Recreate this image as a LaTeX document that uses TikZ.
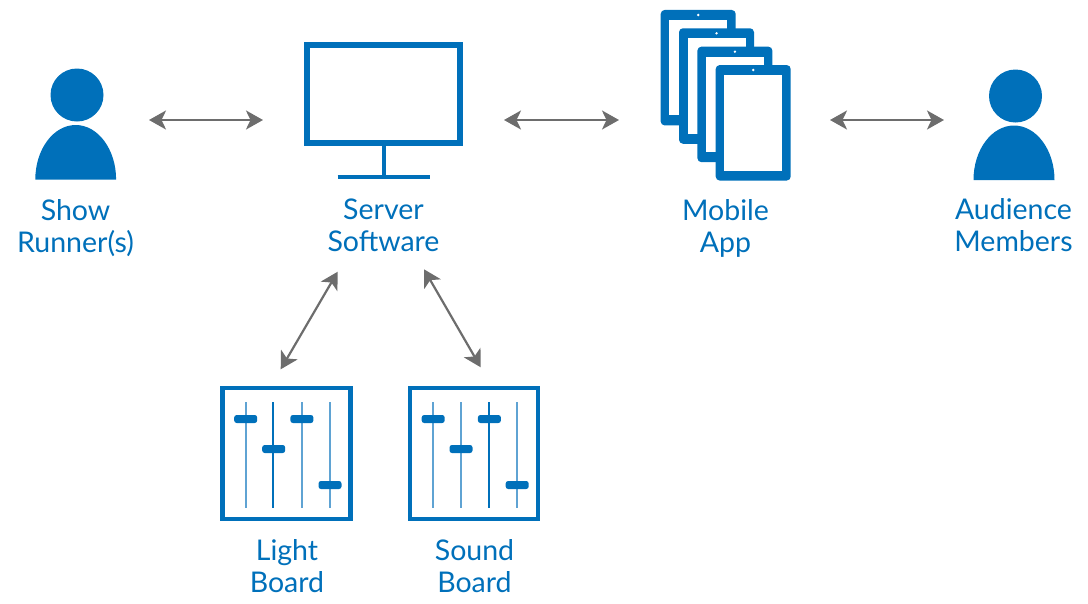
\documentclass[tikz,border=0pt]{standalone}
\usepackage{fontspec}
\setmainfont{Lato}
\usepackage{xcolor}
\usetikzlibrary{arrows.meta}
\definecolor{iconblue}{HTML}{0070BA}
\definecolor{faderlight}{HTML}{5FA3D3}
\definecolor{arrowgray}{HTML}{6D6D6D}

\begin{document}
\begin{tikzpicture}[x=1pt,y=-1pt,
            lbl/.style={text=iconblue, align=center, font=\fontsize{28.5}{32}\selectfont, inner sep=0pt},
            link/.style={draw=arrowgray, line width=2.2pt, {Stealth[length=17pt,width=19pt,inset=4.5pt]}-{Stealth[length=17pt,width=19pt,inset=4.5pt]}},
            head/.style={shape=circle, fill=iconblue, minimum size=53pt, inner sep=0pt},
            board/.style={shape=rectangle, draw=iconblue, line width=4.4pt, minimum width=128pt, minimum height=131pt, inner sep=0pt},
            knob/.style={shape=rectangle, rounded corners=2.5pt, fill=iconblue, minimum width=23pt, minimum height=8pt, inner sep=0pt},
            darkfader/.style={draw=iconblue, line width=1.4pt},
            lightfader/.style={draw=faderlight, line width=1.6pt},
            tablet/.style={shape=rectangle, rounded corners=4pt, fill=iconblue, minimum width=75pt, minimum height=115.5pt, inner sep=0pt},
            glass/.style={shape=rectangle, fill=white, minimum width=58pt, minimum height=95.5pt, inner sep=0pt},
            cam/.style={shape=circle, fill=white, minimum size=2.6pt, inner sep=0pt}]
        \useasboundingbox (0,0) rectangle (1088,603);

        % show runner
        \node[head] (runnerhead) at (77,95) {};
        \fill[iconblue] (35.3,179.5) arc[start angle=180, end angle=360, x radius=40.4, y radius=54.5] -- cycle;
        \node[lbl, anchor=base] (runnerlbl) at (75.5,252) {Show\\Runner(s)};

        % server
        \node[shape=rectangle, draw=iconblue, line width=6pt, minimum width=153pt, minimum height=98pt, inner sep=0pt] (server) at (383.5,94) {};
        \coordinate (serverbase) at (383.5,176.5);
        \draw[iconblue, line width=4pt] (server.south) -- (serverbase);
        \draw[iconblue, line width=4pt] (337.5,176.5) -- (429.5,176.5);
        \node[lbl, anchor=base] (serverlbl) at (383.5,251) {Server\\Software};

        % mobile app
        \node[tablet] (tabA) at (698.2,67.7) {};
        \node[glass] at (tabA) {};
        \node[cam] at (698.2,15) {};
        \node[tablet] (tabB) at (716.5,86) {};
        \node[glass] at (tabB) {};
        \node[cam] at (716.5,33.3) {};
        \node[tablet] (tabC) at (734.9,104.4) {};
        \node[glass] at (tabC) {};
        \node[cam] at (734.9,51.7) {};
        \node[tablet] (tabD) at (753.2,122.8) {};
        \node[glass] at (tabD) {};
        \node[cam] at (753.2,70) {};
        \node[lbl, anchor=base] (applbl) at (725.5,252) {Mobile\\App};

        % audience
        \node[head] (audhead) at (1015.5,96) {};
        \fill[iconblue] (973.5,180) arc[start angle=180, end angle=360, x radius=40.5, y radius=54.5] -- cycle;
        \node[lbl, anchor=base] (audlbl) at (1013.5,251) {Audience\\Members};

        % light board
        \node[board] (light) at (286.5,453.3) {};
        \draw[lightfader] (246,402.3) -- (246,507.7);
        \draw[darkfader] (273,402.3) -- (273,507.7);
        \draw[lightfader] (302,402.3) -- (302,507.7);
        \draw[lightfader] (330,402.3) -- (330,507.7);
        \node[knob] (la) at (245.7,419) {};
        \node[knob] (lb) at (273.7,449) {};
        \node[knob] (lc) at (301.9,419) {};
        \node[knob] (ld) at (330,485) {};
        \node[lbl, anchor=base] (lightlbl) at (287,592) {Light\\Board};

        % sound board
        \node[board] (sound) at (474.2,453.3) {};
        \draw[lightfader] (433,402.3) -- (433,507.7);
        \draw[lightfader] (461,402.3) -- (461,507.7);
        \draw[darkfader] (489,402.3) -- (489,507.7);
        \draw[lightfader] (517,402.3) -- (517,507.7);
        \node[knob] (sa) at (433.2,419) {};
        \node[knob] (sb) at (461,449) {};
        \node[knob] (sc) at (489.4,419) {};
        \node[knob] (sd) at (517.2,485) {};
        \node[lbl, anchor=base] (soundlbl) at (474.5,592) {Sound\\Board};

        % connector ends
        \coordinate (runnerE) at (149,120);
        \coordinate (serverW) at (263,120);
        \coordinate (serverE) at (504,120);
        \coordinate (appW) at (619,120);
        \coordinate (appE) at (830,120);
        \coordinate (audW) at (944,120);
        \coordinate (serverSW) at (337.7,271.7);
        \coordinate (lightN) at (280.7,369.3);
        \coordinate (serverSE) at (424,269.3);
        \coordinate (soundN) at (480.7,367.3);

        \draw[link] (runnerE) -- (serverW);
        \draw[link] (serverE) -- (appW);
        \draw[link] (appE) -- (audW);
        \draw[link] (serverSW) -- (lightN);
        \draw[link] (serverSE) -- (soundN);
    \end{tikzpicture}
\end{document}
